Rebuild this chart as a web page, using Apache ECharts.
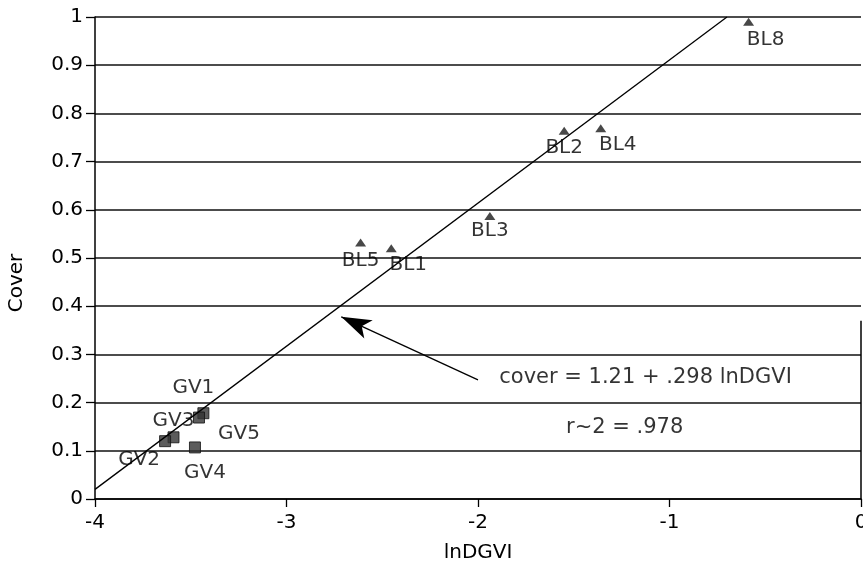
<!DOCTYPE html>
<html>
<head>
<meta charset="utf-8">
<script src="https://cdn.jsdelivr.net/npm/echarts@6/dist/echarts.min.js"></script>
<style>
html,body{margin:0;padding:0;background:#fff;overflow:hidden;width:863px;height:566px;}
#c{width:863px;height:566px;}
</style>
</head>
<body>
<div id="c"></div>
<script>
// ---- data ----
const xTicks = [-4, -3, -2, -1, 0];
const yTicks = [0, 0.1, 0.2, 0.3, 0.4, 0.5, 0.6, 0.7, 0.8, 0.9, 1];
const gvNames = ['GV1', 'GV5', 'GV3', 'GV2', 'GV4'];
const gvX = [-3.434, -3.457, -3.590, -3.634, -3.478];
const gvY = [0.178, 0.169, 0.128, 0.120, 0.107];
const blNames = ['BL5', 'BL1', 'BL3', 'BL2', 'BL4', 'BL8'];
const blX = [-2.613, -2.453, -1.938, -1.550, -1.359, -0.587];
const blY = [0.532, 0.520, 0.587, 0.764, 0.769, 0.990];
const regLineX = [-4, -0.70];
const regLineY = [0.02, 1.0];
const arrowFrom = [-2.00, 0.247];
const arrowTo = [-2.714, 0.378];
const eqText = 'cover = 1.21 + .298 lnDGVI';
const eqPos = [-1.125, 0.251];
const r2Text = 'r~2 = .978';
const r2Pos = [-1.234, 0.149];
const borderX = [0, 0];
const borderY = [0, 0.37];

// ---- label placement (pixel offsets, style only) ----
const labelOffset = {
  GV1: [-10, -25], GV5: [40, 16], GV3: [0, -17], GV2: [-26, 19], GV4: [10, 25],
  BL5: [0, 18], BL1: [17, 16], BL3: [0, 15], BL2: [0, 17], BL4: [17, 16], BL8: [17, 18]
};

const FONT = 'DejaVu Sans';
const INK = '#000';
const chart = echarts.init(document.getElementById('c'), null, {renderer: 'canvas', width: 863, height: 566});

function pts(names, xs, ys) {
  return names.map((n, i) => ({
    name: n,
    value: [xs[i], ys[i]],
    label: {offset: labelOffset[n]}
  }));
}

const option = {
  animation: false,
  backgroundColor: '#fff',
  grid: {left: 95, right: 2, top: 17, bottom: 67, containLabel: false, outerBoundsMode: 'none'},
  xAxis: {
    type: 'value', min: -4, max: 0, interval: 1,
    name: 'lnDGVI', nameLocation: 'middle', nameGap: 44,
    nameTextStyle: {fontFamily: FONT, fontSize: 20, color: INK},
    axisLine: {show: true, onZero: false, lineStyle: {color: INK, width: 1.5}},
    axisTick: {show: true, length: 8, lineStyle: {color: INK, width: 1.3}},
    axisLabel: {fontFamily: FONT, fontSize: 20, color: INK, margin: 14,
      hideOverlap: false, showMaxLabel: true, showMinLabel: true,
      formatter: v => xTicks.includes(v) ? String(v) : ''},
    splitLine: {show: false}
  },
  yAxis: {
    type: 'value', min: 0, max: 1, interval: 0.1,
    axisLine: {show: true, onZero: false, lineStyle: {color: INK, width: 1.5}},
    axisTick: {show: true, length: 9, lineStyle: {color: INK, width: 1.3}},
    axisLabel: {fontFamily: FONT, fontSize: 20, color: INK, margin: 12,
      formatter: v => {
        const t = yTicks.find(k => Math.abs(k - v) < 1e-9);
        return t === undefined ? '' : String(t);
      }},
    splitLine: {show: true, lineStyle: {color: '#111', width: 1.5}}
  },
  graphic: [{
    type: 'text', x: 17, y: 283, rotation: Math.PI / 2,
    style: {text: 'Cover', fontFamily: FONT, fontSize: 20, fill: INK,
      align: 'center', verticalAlign: 'middle'}
  }],
  series: [
    {
      type: 'line', symbol: 'none', silent: true,
      data: regLineX.map((x, i) => [x, regLineY[i]]),
      lineStyle: {color: INK, width: 1.3},
      markLine: {
        silent: true, symbol: ['none', 'arrow'], symbolSize: 26,
        label: {show: false},
        lineStyle: {color: INK, width: 1.3, type: 'solid'},
        data: [[{coord: arrowFrom, symbol: 'none'},
                {coord: arrowTo, symbol: 'arrow', symbolSize: [15, 30]}]]
      }
    },
    {
      type: 'line', symbol: 'none', silent: true, clip: false,
      data: borderX.map((x, i) => [x, borderY[i]]),
      lineStyle: {color: INK, width: 1.5}
    },
    {
      type: 'scatter', symbol: 'rect', symbolSize: 11,
      itemStyle: {color: '#333', borderColor: '#111', borderWidth: 1},
      label: {show: true, position: 'inside', formatter: '{b}',
        fontFamily: FONT, fontSize: 20, color: INK, textBorderWidth: 0},
      data: pts(gvNames, gvX, gvY)
    },
    {
      type: 'scatter', symbol: 'triangle', symbolSize: [11, 8],
      itemStyle: {color: '#1a1a1a'},
      label: {show: true, position: 'inside', formatter: '{b}',
        fontFamily: FONT, fontSize: 20, color: INK, textBorderWidth: 0},
      data: pts(blNames, blX, blY)
    },
    {
      type: 'scatter', symbol: 'circle', symbolSize: 2, silent: true,
      itemStyle: {color: 'rgba(255,255,255,0)'},
      label: {show: true, position: 'inside', formatter: '{b}',
        fontFamily: FONT, fontSize: 21, color: INK, textBorderWidth: 0},
      labelLayout: {hideOverlap: false},
      data: [
        {name: eqText, value: eqPos},
        {name: r2Text, value: r2Pos}
      ]
    }
  ]
};
chart.setOption(option);
</script>
</body>
</html>
